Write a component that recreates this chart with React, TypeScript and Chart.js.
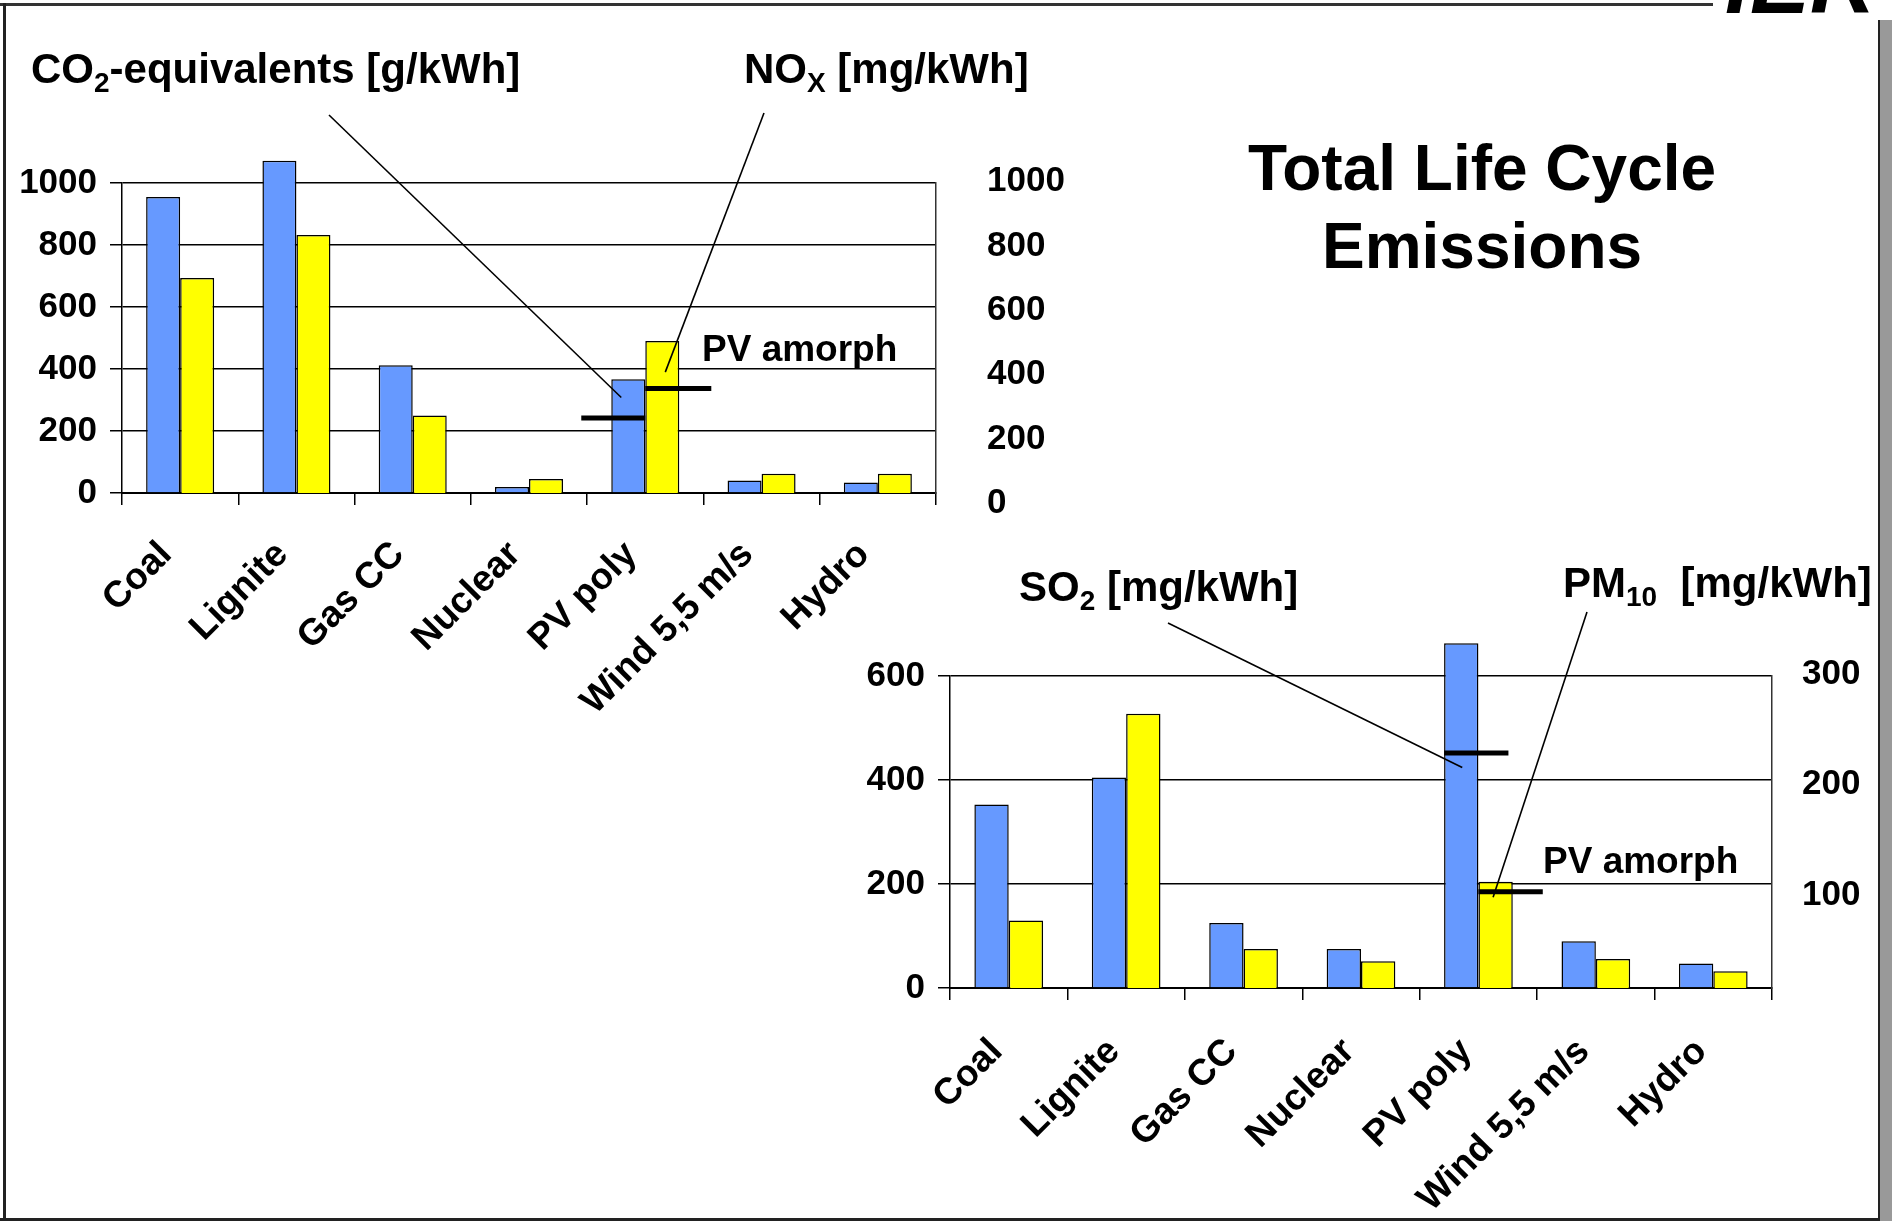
import React, { useEffect, useRef } from 'react';
import { Chart, registerables } from 'chart.js';

Chart.register(...registerables);

// ---------- data ----------
const categories = ['Coal', 'Lignite', 'Gas CC', 'Nuclear', 'PV poly', 'Wind 5,5 m/s', 'Hydro'];
const co2Values = [955, 1072, 412, 19, 367, 40, 34]; // g/kWh
const noxValues = [700, 834, 273, 76, 505, 92, 92]; // mg/kWh
const so2Values = [353, 405, 125, 75, 663, 90, 47]; // mg/kWh
const pm10Values = [77, 264, 51, 40, 112, 42, 31]; // mg/kWh
const co2Ticks = [0, 200, 400, 600, 800, 1000];
const noxTicks = [0, 200, 400, 600, 800, 1000];
const so2Ticks = [0, 200, 400, 600];
const pm10Ticks = [100, 200, 300];
const co2PvAmorph = 242;
const noxPvAmorph = 357;
const so2PvAmorph = 452;
const pm10PvAmorph = 103;

// ---------- style ----------
const FONT = "'Liberation Sans', Arial, Helvetica, sans-serif";
const BLUE = '#6699FF';
const YELLOW = '#FFFF00';
const PV_INDEX = 4;

type Marker = { datasetIndex: number; index: number; value: number; extendLeft: number; extendRight: number };
type Leader = { datasetIndex: number; index: number; value: number; dx: number; fromX: number; fromY: number };

function annotationPlugin(markers: Marker[], leaders: Leader[], offX: number, offY: number) {
  return {
    id: 'pvAnnotations',
    afterDatasetsDraw(chart: any) {
      const ctx = chart.ctx as CanvasRenderingContext2D;
      ctx.save();
      ctx.strokeStyle = '#000';
      leaders.forEach((l) => {
        const meta = chart.getDatasetMeta(l.datasetIndex);
        const bar = meta.data[l.index];
        const scale = chart.scales[meta.yAxisID];
        ctx.beginPath();
        ctx.lineWidth = 1.6;
        ctx.moveTo(l.fromX - offX, l.fromY - offY);
        ctx.lineTo(bar.x + l.dx, scale.getPixelForValue(l.value));
        ctx.stroke();
      });
      markers.forEach((m) => {
        const meta = chart.getDatasetMeta(m.datasetIndex);
        const bar = meta.data[m.index];
        const scale = chart.scales[meta.yAxisID];
        const y = scale.getPixelForValue(m.value);
        ctx.beginPath();
        ctx.lineWidth = 5;
        ctx.lineCap = 'butt';
        ctx.moveTo(bar.x - bar.width / 2 - m.extendLeft, y);
        ctx.lineTo(bar.x + bar.width / 2 + m.extendRight, y);
        ctx.stroke();
      });
      ctx.restore();
    },
  };
}

type ChartSpec = {
  blue: number[];
  yellow: number[];
  leftTicks: number[];
  rightTicks: number[];
  leftMax: number;
  rightMin: number;
  rightMax: number;
  padTop: number;
  yWidth: number;
  y2Width: number;
  xHeight: number;
  y2Padding: number;
  xPadding: number;
  xLabelOffset: number;
  markers: Marker[];
  leaders: Leader[];
  offX: number;
  offY: number;
};

const plainLabel = (v: any) => String(v);

function buildConfig(s: ChartSpec): any {
  const tickFont = { family: FONT, size: 35, weight: 'bold' as const };
  return {
    type: 'bar',
    data: {
      labels: categories,
      datasets: [
        {
          data: s.blue,
          yAxisID: 'y',
          backgroundColor: BLUE,
          borderColor: '#000',
          borderWidth: 1.5,
          clip: false,
        },
        {
          data: s.yellow,
          yAxisID: 'y2',
          backgroundColor: YELLOW,
          borderColor: '#000',
          borderWidth: 1.5,
          clip: { left: false, right: false, top: false, bottom: 0 },
        },
      ],
    },
    options: {
      animation: false,
      responsive: false,
      maintainAspectRatio: false,
      datasets: { bar: { categoryPercentage: 0.585, barPercentage: 1.0 } },
      layout: { padding: { top: s.padTop, left: 0, right: 0, bottom: 0 } },
      plugins: { legend: { display: false }, tooltip: { enabled: false }, title: { display: false } },
      scales: {
        x: {
          grid: { display: true, drawOnChartArea: false, drawTicks: true, tickLength: 12, color: '#000', lineWidth: 1.5, offset: true },
          border: { display: true, color: '#000', width: 2 },
          ticks: {
            color: '#000',
            font: { family: FONT, size: 37, weight: 'bold' },
            minRotation: 45,
            maxRotation: 45,
            autoSkip: false,
            padding: s.xPadding,
            labelOffset: s.xLabelOffset,
          },
          afterFit: (scale: any) => {
            scale.height = s.xHeight;
          },
        },
        y: {
          position: 'left',
          min: 0,
          max: s.leftMax,
          afterBuildTicks: (scale: any) => {
            scale.ticks = s.leftTicks.map((v) => ({ value: v }));
          },
          grid: { display: true, drawOnChartArea: true, drawTicks: true, tickLength: 12, color: '#000', lineWidth: 1.5 },
          border: { display: true, color: '#000', width: 1.5 },
          ticks: { color: '#000', font: tickFont, padding: 13, autoSkip: false, callback: plainLabel },
          afterFit: (scale: any) => {
            scale.width = s.yWidth;
          },
        },
        y2: {
          position: 'right',
          min: s.rightMin,
          max: s.rightMax,
          afterBuildTicks: (scale: any) => {
            scale.ticks = s.rightTicks.map((v) => ({ value: v }));
          },
          grid: { display: false, drawOnChartArea: false, drawTicks: false },
          border: { display: true, color: '#333', width: 1.5 },
          ticks: {
            color: '#000',
            font: tickFont,
            padding: s.y2Padding,
            autoSkip: false,
            crossAlign: 'near',
            callback: plainLabel,
          },
          afterFit: (scale: any) => {
            scale.width = s.y2Width;
          },
        },
      },
    },
    plugins: [annotationPlugin(s.markers, s.leaders, s.offX, s.offY)],
  };
}

const TOP = { left: 0, top: 0, width: 1120, height: 760 };
const BOT = { left: 840, top: 520, width: 1040, height: 700 };

function topSpec(): ChartSpec {
  return {
    blue: co2Values,
    yellow: noxValues,
    leftTicks: co2Ticks,
    rightTicks: noxTicks,
    leftMax: 1000,
    rightMin: 32.6,
    rightMax: 995.3,
    padTop: 183,
    yWidth: 122,
    y2Width: TOP.width - 936,
    xHeight: TOP.height - 493,
    y2Padding: 51,
    xPadding: 28,
    xLabelOffset: -14,
    markers: [
      { datasetIndex: 0, index: PV_INDEX, value: co2PvAmorph, extendLeft: 30, extendRight: 0 },
      { datasetIndex: 1, index: PV_INDEX, value: noxPvAmorph, extendLeft: 0, extendRight: 32 },
    ],
    leaders: [
      { datasetIndex: 0, index: PV_INDEX, value: 308, dx: -7, fromX: 329, fromY: 115 },
      { datasetIndex: 1, index: PV_INDEX, value: 408, dx: 3, fromX: 764, fromY: 113 },
    ],
    offX: TOP.left,
    offY: TOP.top,
  };
}

function bottomSpec(): ChartSpec {
  return {
    blue: so2Values,
    yellow: pm10Values,
    leftTicks: so2Ticks,
    rightTicks: pm10Ticks,
    leftMax: 600,
    rightMin: 15.8,
    rightMax: 298.2,
    padTop: 156,
    yWidth: 110,
    y2Width: BOT.width - 932,
    xHeight: BOT.height - 468,
    y2Padding: 30,
    xPadding: 30,
    xLabelOffset: -12,
    markers: [
      { datasetIndex: 0, index: PV_INDEX, value: so2PvAmorph, extendLeft: 0, extendRight: 30 },
      { datasetIndex: 1, index: PV_INDEX, value: pm10PvAmorph, extendLeft: 0, extendRight: 30 },
    ],
    leaders: [
      { datasetIndex: 0, index: PV_INDEX, value: 424, dx: 1, fromX: 1168, fromY: 623 },
      { datasetIndex: 1, index: PV_INDEX, value: 98, dx: -2.5, fromX: 1587, fromY: 612 },
    ],
    offX: BOT.left,
    offY: BOT.top,
  };
}

// text placed by baseline (line-height = font-size)
function TextAt(props: { left: number; baseline: number; size: number; children: React.ReactNode; width?: number; align?: 'left' | 'center' }) {
  const { left, baseline, size, children, width, align } = props;
  return (
    <div
      style={{
        position: 'absolute',
        left,
        top: baseline - 0.8465 * size,
        fontSize: size,
        lineHeight: `${size}px`,
        fontWeight: 'bold',
        fontFamily: FONT,
        color: '#000',
        whiteSpace: 'nowrap',
        width,
        textAlign: align || 'left',
      }}
    >
      {children}
    </div>
  );
}

const sub = (txt: string, size: number, drop: number) => (
  <span style={{ fontSize: size, verticalAlign: -drop, lineHeight: '0' }}>{txt}</span>
);

export default function App() {
  const topRef = useRef<HTMLCanvasElement>(null);
  const botRef = useRef<HTMLCanvasElement>(null);

  useEffect(() => {
    const c1 = new Chart(topRef.current as HTMLCanvasElement, buildConfig(topSpec()));
    const c2 = new Chart(botRef.current as HTMLCanvasElement, buildConfig(bottomSpec()));
    return () => {
      c1.destroy();
      c2.destroy();
    };
  }, []);

  return (
    <div
      style={{
        position: 'absolute',
        left: 0,
        top: 0,
        width: 1892,
        height: 1221,
        background: '#fff',
        overflow: 'hidden',
        fontFamily: FONT,
      }}
    >
      {/* frame */}
      <div style={{ position: 'absolute', left: 0, top: 3, width: 1713, height: 3, background: '#333' }} />
      <div style={{ position: 'absolute', left: 3, top: 3, width: 3, height: 1218, background: '#222' }} />
      <div style={{ position: 'absolute', left: 0, top: 1218, width: 1880, height: 3, background: '#222' }} />
      <div style={{ position: 'absolute', left: 1878, top: 20, width: 2, height: 1201, background: '#222' }} />
      <div style={{ position: 'absolute', left: 1880, top: 20, width: 12, height: 1201, background: '#999' }} />
      <div style={{ position: 'absolute', left: 1715, top: 0, width: 177, height: 13, overflow: 'hidden' }}>
        <span
          style={{
            position: 'absolute',
            left: 10,
            top: 12.7 - 0.8465 * 90,
            fontSize: 90,
            lineHeight: '90px',
            fontWeight: 'bold',
            fontStyle: 'italic',
            fontFamily: FONT,
            color: '#000',
            whiteSpace: 'nowrap',
          }}
        >
          IER
        </span>
      </div>

      <canvas
        ref={topRef}
        width={TOP.width}
        height={TOP.height}
        style={{ position: 'absolute', left: TOP.left, top: TOP.top, width: TOP.width, height: TOP.height }}
      />
      <canvas
        ref={botRef}
        width={BOT.width}
        height={BOT.height}
        style={{ position: 'absolute', left: BOT.left, top: BOT.top, width: BOT.width, height: BOT.height }}
      />

      {/* title */}
      <TextAt left={1182} width={600} align="center" baseline={190} size={64}>
        Total Life Cycle
      </TextAt>
      <TextAt left={1182} width={600} align="center" baseline={268} size={64}>
        Emissions
      </TextAt>

      {/* top chart annotations */}
      <TextAt left={31} baseline={84} size={42}>
        CO{sub('2', 28, 9)}-equivalents [g/kWh]
      </TextAt>
      <TextAt left={744} baseline={84} size={42}>
        NO{sub('X', 28, 9)} [mg/kWh]
      </TextAt>
      <TextAt left={702} baseline={361} size={37}>
        PV amorph
      </TextAt>

      {/* bottom chart annotations */}
      <TextAt left={1019} baseline={602} size={42}>
        SO{sub('2', 28, 9)} [mg/kWh]
      </TextAt>
      <TextAt left={1563} baseline={598} size={42}>
        PM{sub('10', 28, 9)}&nbsp; [mg/kWh]
      </TextAt>
      <TextAt left={1543} baseline={873} size={37}>
        PV amorph
      </TextAt>
    </div>
  );
}
